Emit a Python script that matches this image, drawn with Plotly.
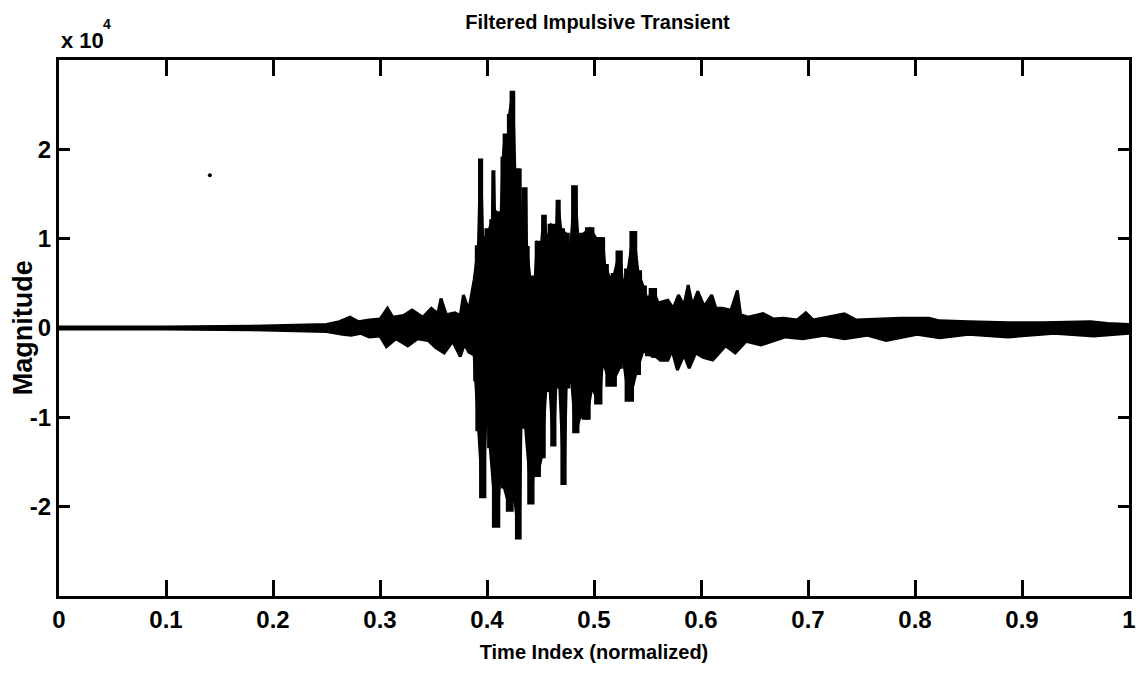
import plotly.graph_objects as go

# Upper envelope of the filtered transient (time normalized, magnitude in units of 1e4)
up_t = [0.000, 0.100, 0.180, 0.220, 0.250, 0.262, 0.272, 0.280, 0.290, 0.300, 0.307, 0.312, 0.322,
        0.330, 0.340, 0.348, 0.354, 0.357, 0.362, 0.370, 0.375, 0.378, 0.383, 0.388, 0.392, 0.394,
        0.396, 0.402, 0.405, 0.406, 0.407, 0.409, 0.413, 0.415, 0.417, 0.419, 0.421, 0.424, 0.426,
        0.430, 0.432, 0.436, 0.437, 0.440, 0.445, 0.447, 0.451, 0.453, 0.456, 0.460, 0.465, 0.466,
        0.469, 0.474, 0.478, 0.482, 0.485, 0.490, 0.496, 0.502, 0.508, 0.510, 0.515, 0.519, 0.524,
        0.527, 0.532, 0.537, 0.541, 0.546, 0.550, 0.555, 0.560, 0.569, 0.574, 0.579, 0.584, 0.588,
        0.592, 0.597, 0.603, 0.610, 0.614, 0.620, 0.628, 0.634, 0.637, 0.644, 0.658, 0.668, 0.677,
        0.690, 0.698, 0.705, 0.713, 0.734, 0.745, 0.762, 0.787, 0.813, 0.823, 0.850, 0.887, 0.920,
        0.964, 0.980, 1.000]
up_v = [0.01, 0.01, 0.02, 0.03, 0.04, 0.07, 0.12, 0.07, 0.09, 0.10, 0.22, 0.12, 0.14,
        0.20, 0.12, 0.22, 0.16, 0.33, 0.15, 0.17, 0.14, 0.37, 0.20, 0.54, 0.91, 1.88,
        0.95, 1.10, 1.20, 1.75, 1.30, 1.29, 1.20, 1.90, 2.16, 1.95, 2.38, 2.64, 1.77,
        1.77, 1.06, 1.56, 0.90, 0.57, 0.55, 0.96, 0.95, 1.25, 0.95, 1.15, 1.10, 1.42,
        1.10, 1.05, 0.84, 1.58, 1.00, 1.05, 1.11, 1.00, 1.00, 0.70, 0.55, 0.60, 0.85,
        0.46, 0.65, 1.07, 0.63, 0.46, 0.31, 0.43, 0.28, 0.31, 0.22, 0.37, 0.25, 0.48,
        0.25, 0.41, 0.24, 0.37, 0.22, 0.22, 0.20, 0.42, 0.15, 0.12, 0.16, 0.10, 0.11,
        0.09, 0.17, 0.09, 0.11, 0.16, 0.09, 0.10, 0.11, 0.11, 0.08, 0.07, 0.06, 0.06,
        0.07, 0.05, 0.04]

# Lower envelope
lo_t = [0.000, 0.100, 0.180, 0.220, 0.250, 0.265, 0.273, 0.282, 0.290, 0.300, 0.306, 0.315, 0.326,
        0.335, 0.345, 0.352, 0.360, 0.368, 0.375, 0.379, 0.383, 0.388, 0.389, 0.392, 0.396, 0.400,
        0.403, 0.409, 0.413, 0.416, 0.422, 0.425, 0.430, 0.432, 0.436, 0.442, 0.444, 0.447, 0.451,
        0.456, 0.459, 0.462, 0.465, 0.468, 0.472, 0.474, 0.479, 0.483, 0.487, 0.493, 0.498, 0.505,
        0.508, 0.516, 0.524, 0.527, 0.533, 0.539, 0.546, 0.552, 0.558, 0.562, 0.569, 0.573, 0.578,
        0.584, 0.589, 0.595, 0.602, 0.611, 0.616, 0.623, 0.632, 0.642, 0.656, 0.665, 0.679, 0.695,
        0.715, 0.734, 0.755, 0.773, 0.802, 0.823, 0.850, 0.887, 0.930, 0.967, 1.000]
lo_v = [-0.01, -0.01, -0.02, -0.03, -0.04, -0.07, -0.08, -0.06, -0.10, -0.09, -0.21, -0.12, -0.20,
        -0.12, -0.14, -0.22, -0.28, -0.15, -0.32, -0.18, -0.27, -0.30, -0.58, -1.14, -1.89, -0.73,
        -1.33, -2.22, -1.51, -1.78, -2.04, -1.81, -2.35, -0.92, -1.11, -1.96, -1.25, -1.65, -1.44,
        -0.50, -0.70, -1.31, -0.47, -0.66, -1.74, -0.66, -0.58, -1.16, -0.99, -1.01, -0.66, -0.84,
        -0.36, -0.64, -0.44, -0.32, -0.81, -0.51, -0.25, -0.30, -0.32, -0.36, -0.36, -0.25, -0.47,
        -0.30, -0.45, -0.28, -0.33, -0.36, -0.29, -0.20, -0.28, -0.15, -0.19, -0.16, -0.10, -0.12,
        -0.08, -0.12, -0.08, -0.14, -0.07, -0.11, -0.07, -0.10, -0.06, -0.09, -0.06]

# Isolated stray point visible in the figure
dot_t = [0.141]
dot_v = [1.71]

x_ticks = [0, 0.1, 0.2, 0.3, 0.4, 0.5, 0.6, 0.7, 0.8, 0.9, 1]
x_labels = ["0", "0.1", "0.2", "0.3", "0.4", "0.5", "0.6", "0.7", "0.8", "0.9", "1"]
y_ticks = [-2, -1, 0, 1, 2]
y_labels = ["-2", "-1", "0", "1", "2"]

FONT = "Liberation Sans, Arial, Helvetica, sans-serif"
CORE = (0.385, 0.56)  # dense burst drawn with vertical (step) edges

fig = go.Figure()
# whole envelope, linear
fig.add_trace(go.Scatter(
    x=up_t + lo_t[::-1], y=up_v + lo_v[::-1],
    mode="lines", fill="toself", fillcolor="black",
    line=dict(color="black", width=3), hoverinfo="skip", showlegend=False))
# burst core, stepped so that spikes stand as vertical bars
cu = [(t, v) for t, v in zip(up_t, up_v) if CORE[0] <= t <= CORE[1]]
cl = [(t, v) for t, v in zip(lo_t, lo_v) if CORE[0] <= t <= CORE[1]]
fig.add_trace(go.Scatter(
    x=[p[0] for p in cu] + [p[0] for p in cl[::-1]],
    y=[p[1] for p in cu] + [p[1] for p in cl[::-1]],
    mode="lines", fill="toself", fillcolor="black", line_shape="hvh",
    line=dict(color="black", width=3), hoverinfo="skip", showlegend=False))
fig.add_trace(go.Scatter(
    x=dot_t, y=dot_v, mode="markers",
    marker=dict(color="black", size=4), hoverinfo="skip", showlegend=False))

axis_common = dict(showline=True, linecolor="black", linewidth=3, mirror="ticks",
                   ticks="inside", tickcolor="black", tickwidth=3,
                   showgrid=False, zeroline=False)

fig.update_layout(
    width=1139, height=675,
    margin=dict(l=59, r=3, t=60, b=79),
    paper_bgcolor="white", plot_bgcolor="white",
    title=dict(text="Filtered Impulsive Transient", x=0.5246, xanchor="center",
               y=1 - 22 / 675, yanchor="middle", yref="container",
               font=dict(family=FONT, size=20, color="black", weight="bold")),
    xaxis=dict(range=[0, 1], tickvals=x_ticks, ticktext=x_labels, ticklen=16,
               ticklabeloverflow="allow",
               tickfont=dict(family=FONT, size=24, color="black", weight="bold"),
               title=dict(text="Time Index (normalized)", standoff=14,
                          font=dict(family=FONT, size=20, color="black", weight="bold")),
               **axis_common),
    yaxis=dict(range=[-3, 3], tickvals=y_ticks, ticktext=y_labels, ticklen=11,
               tickfont=dict(family=FONT, size=24, color="black", weight="bold"),
               **axis_common),
)

# y-axis label placed as rotated text
fig.add_annotation(text="Magnitude", xref="paper", yref="paper",
                   x=(23 - 59) / 1077, y=0.5, xanchor="center", yanchor="middle",
                   textangle=-90, showarrow=False,
                   font=dict(family=FONT, size=27, color="black", weight="bold"))

# axis exponent label "x 10^4"
fig.add_annotation(text="x 10", xref="paper", yref="paper",
                   x=0, y=1 + (60 - 55) / 536,
                   xanchor="left", yanchor="bottom", showarrow=False,
                   font=dict(family=FONT, size=22, color="black", weight="bold"))
fig.add_annotation(text="4", xref="paper", yref="paper",
                   x=(101 - 59) / 1077, y=1 + (60 - 34) / 536,
                   xanchor="left", yanchor="bottom", showarrow=False,
                   font=dict(family=FONT, size=14, color="black", weight="bold"))

fig.write_html("out.html")
